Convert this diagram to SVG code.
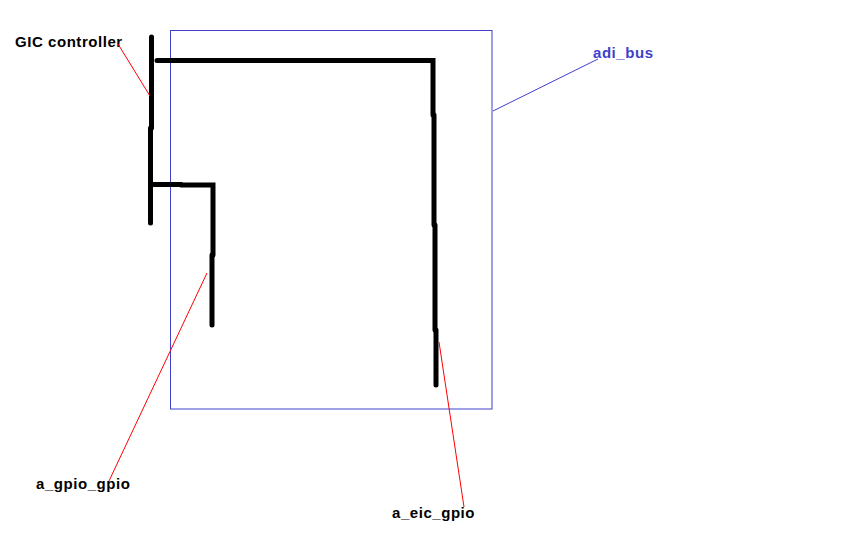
<svg xmlns="http://www.w3.org/2000/svg" width="852" height="552" viewBox="0 0 852 552">
<style>
.lbl{font-family:"Liberation Sans",Arial,sans-serif;font-weight:bold;font-size:15px;letter-spacing:0.55px;fill:#000}
.blue{fill:#4040cc}
.wire{stroke:#000;stroke-width:5;fill:none;stroke-linecap:round;stroke-linejoin:miter}
.lead{stroke:#ff0000;stroke-width:1;fill:none}
.leadb{stroke:#4040cc;stroke-width:1;fill:none}
</style>
<rect width="852" height="552" fill="#fff"/>
<g id="adi_bus">
<rect x="170.5" y="30.5" width="321.5" height="378.5" fill="none" stroke="#4040cc" stroke-width="1"/>
<text class="lbl blue" x="593" y="58">adi_bus</text>
</g>
<g id="gic_controller">
<text class="lbl" x="15" y="47">GIC controller</text>
</g>
<g id="a_gpio_gpio">
<text class="lbl" x="36" y="489">a_gpio_gpio</text>
</g>
<g id="a_eic_gpio">
<text class="lbl" x="392" y="518">a_eic_gpio</text>
</g>
<g id="connectors">
<path class="wire" d="M151.5,37 V128"/>
<path class="wire" d="M150.5,128 V223"/>
<path class="wire" d="M157,60.5 H433 V115"/>
<path class="wire" d="M434,115 V225"/>
<path class="wire" d="M435,225 V330"/>
<path class="wire" d="M436,330 V385"/>
<path class="wire" d="M151,184.5 H181"/>
<path class="wire" d="M181,185 H213 V255"/>
<path class="wire" d="M212,255 V325"/>
<line class="lead" x1="118" y1="44" x2="150" y2="96"/>
<line class="lead" x1="207" y1="273" x2="109" y2="481"/>
<line class="lead" x1="439" y1="342" x2="464" y2="507"/>
<line class="leadb" x1="493" y1="111" x2="598" y2="59"/>
</g>
</svg>
